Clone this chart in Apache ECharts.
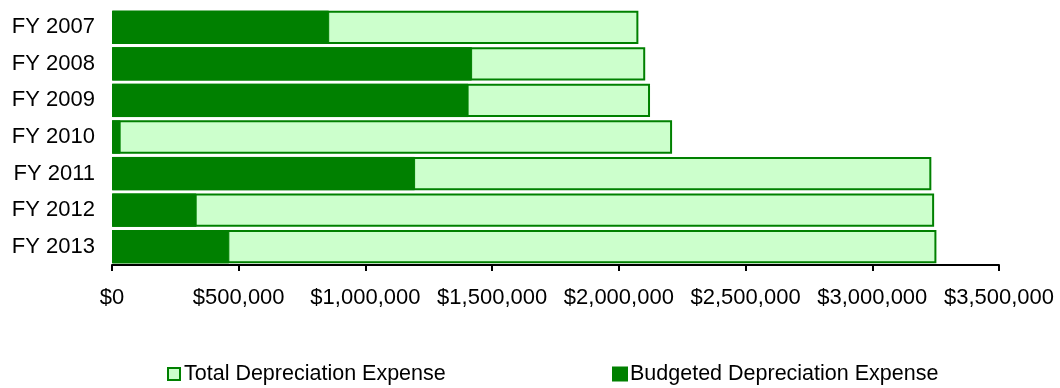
<!DOCTYPE html>
<html>
<head>
<meta charset="utf-8">
<script src="https://cdn.jsdelivr.net/npm/echarts@6/dist/echarts.min.js"></script>
<style>
html,body{margin:0;padding:0;background:#fff;}
#chart{width:1060px;height:388px;}
</style>
</head>
<body>
<div id="chart"></div>
<script>
var categories = ['FY 2007','FY 2008','FY 2009','FY 2010','FY 2011','FY 2012','FY 2013'];
var totalDepreciation = [2077000, 2104000, 2123000, 2210000, 3233000, 3244000, 3253000];
var budgetedDepreciation = [857000, 1421000, 1407000, 34000, 1196000, 334000, 463000];
var xTicks = [0, 500000, 1000000, 1500000, 2000000, 2500000, 3000000, 3500000];

var FONT = '"Liberation Sans", Arial, sans-serif';
function money(v){ return '$' + Math.round(v).toString().replace(/\B(?=(\d{3})+(?!\d))/g, ','); }

var chart = echarts.init(document.getElementById('chart'), null, {renderer:'canvas'});
chart.setOption({
  animation: false,
  textStyle: {fontFamily: FONT},
  grid: {left: 112, right: 61, top: 9, bottom: 123, containLabel: false},
  legend: [
    {data: ['Total Depreciation Expense'], left: 167, top: 363, padding: 0, itemWidth: 12, itemHeight: 12, itemGap: 4, icon: 'rect',
     textStyle: {fontFamily: FONT, fontSize: 21.5, color: '#000', padding: [0, 0, 0, -1]}},
    {data: ['Budgeted Depreciation Expense'], left: 612, top: 363, padding: 0, itemWidth: 14, itemHeight: 13, itemGap: 4, icon: 'rect',
     textStyle: {fontFamily: FONT, fontSize: 21.5, color: '#000', padding: [0, 0, 0, -2]}}
  ],
  xAxis: {
    type: 'value', min: xTicks[0], max: xTicks[xTicks.length-1], interval: 500000,
    splitLine: {show: false},
    axisLine: {show: true, lineStyle: {color: '#000', width: 2}},
    axisTick: {show: true, length: 6, lineStyle: {color: '#000', width: 2}},
    axisLabel: {margin: 22, fontSize: 22, color: '#000', fontFamily: FONT, formatter: money}
  },
  yAxis: {
    type: 'category', data: categories, inverse: true,
    axisLine: {show: false}, axisTick: {show: false},
    axisLabel: {margin: 17, fontSize: 22, color: '#000', fontFamily: FONT}
  },
  series: [
    {name: 'Total Depreciation Expense', type: 'bar', data: totalDepreciation,
     barCategoryGap: '9%', barGap: '-100%',
     itemStyle: {color: '#CCFFCC', borderColor: '#008000', borderWidth: 2}},
    {name: 'Budgeted Depreciation Expense', type: 'bar', data: budgetedDepreciation,
     barCategoryGap: '9%', barGap: '-100%',
     itemStyle: {color: '#008000', borderColor: '#008000', borderWidth: 1}}
  ]
});
</script>
</body>
</html>
